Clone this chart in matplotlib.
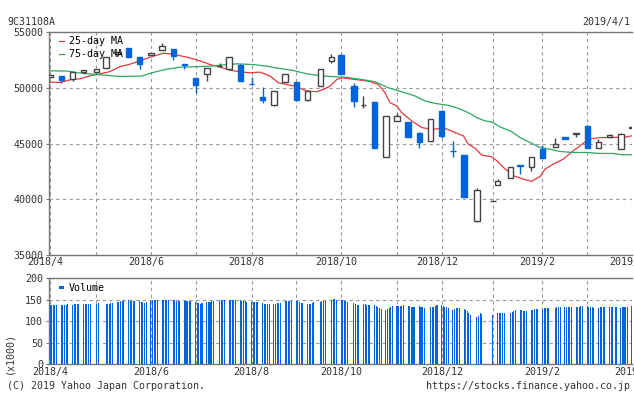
import numpy as np
import pandas as pd
import matplotlib
matplotlib.use("Agg")
import matplotlib.pyplot as plt
from matplotlib.transforms import ScaledTranslation

# ---- values ----
start = pd.Timestamp("2018-04-02")
end = pd.Timestamp("2019-04-01")
jp_holidays = ["2018-04-30", "2018-05-03", "2018-05-04", "2018-07-16", "2018-09-17",
               "2018-09-24", "2018-10-08", "2018-11-23", "2018-12-24", "2018-12-31",
               "2019-01-01", "2019-01-02", "2019-01-03", "2019-01-14", "2019-02-11",
               "2019-03-21"]

# weekly candles, oldest first
w_open = [51000, 51050, 50800, 51400, 51400, 51760, 53000, 53550, 52770, 52920, 53370,
          53480, 52140, 50890, 51190, 51920, 51640, 52080, 50340, 49200, 48450, 50500,
          50535, 48900, 50150, 52380, 52980, 50180, 48450, 48690, 43810, 47030, 46940,
          45980, 45240, 47950, 44360, 43950, 38010, 39820, 41310, 41940, 43030, 42920,
          44550, 44710, 45560, 45850, 46610, 44580, 45560, 44500, 46420]
w_close = [51100, 50700, 51450, 51600, 51680, 52740, 53200, 52750, 52170, 53120, 53780,
           52880, 52000, 50210, 51790, 51960, 52740, 50650, 50330, 48870, 49700, 51250,
           48870, 49700, 51700, 52740, 51190, 48810, 48480, 44580, 47470, 47470, 45600,
           45090, 47180, 45650, 44340, 40180, 40870, 39830, 41610, 42860, 43010, 43750,
           43690, 44940, 45380, 45900, 44580, 45150, 45800, 45890, 46440]
w_high = [51100, 51050, 51450, 51600, 51700, 52760, 53250, 53550, 52770, 53150, 54000,
          53500, 52150, 50900, 51800, 52230, 52760, 52100, 50950, 50090, 49700, 51260,
          50540, 49720, 51720, 53040, 53000, 50450, 49260, 48700, 47470, 47770, 46950,
          46000, 47190, 47960, 45180, 43960, 40990, 39840, 41810, 42870, 43030, 43760,
          44850, 45450, 45600, 45920, 46620, 45380, 45810, 45980, 46450]
w_low = [50950, 50450, 50650, 51200, 51350, 51750, 52950, 52750, 51640, 52900, 53370,
         52470, 51650, 49490, 50650, 51900, 51620, 50650, 50330, 48660, 48330, 50480,
         48860, 48780, 50140, 52230, 51190, 48300, 48150, 44580, 43810, 47030, 45600,
         44580, 45240, 45530, 43750, 40180, 38000, 39810, 41300, 41930, 42270, 42500,
         43690, 44700, 45380, 45600, 44580, 44570, 45550, 44490, 46400]

# moving averages: day offset from 2018/4/2, value
ma25_day = [0, 6.3, 12.5, 18.8, 25, 31.3, 37.5, 43.8, 50, 56.3, 62.5, 70.7, 76.9, 85.7,
            93.8, 100.1, 106.3, 112.6, 118.8, 125.1, 131.3, 137.6, 142.8, 148, 154.3,
            160.5, 166.8, 170.9, 175.1, 179.3, 182.4, 190.7, 199.1, 205.3, 209.5, 212.6,
            216.8, 219.9, 226.2, 232.5, 238.7, 247, 253.3, 258.5, 261.6, 265.8, 270,
            276.2, 279.4, 283.5, 289.7, 296, 301.2, 306.4, 309.6, 314.8, 321, 327.3,
            331.5, 336.7, 344, 352.3, 360.7, 364]
ma25_val = [50509, 50473, 50714, 50803, 51071, 51250, 51455, 51902, 52116, 52411, 52741,
            53098, 53009, 52741, 52411, 52080, 51848, 51580, 51428, 51339, 51402, 51044,
            50446, 50294, 50089, 49705, 49643, 49848, 50152, 50741, 50893, 50741, 50598,
            50294, 49553, 48660, 48366, 47767, 47026, 46428, 46276, 46366, 45982, 45687,
            44937, 44580, 43955, 43812, 43455, 42857, 42116, 41812, 41607, 42027, 42705,
            43151, 43598, 44348, 44794, 45384, 45535, 45535, 45598, 45687]
ma75_day = [0, 11.4, 17.7, 31.3, 43.8, 57.3, 63.6, 71.9, 81.3, 89.6, 100.1, 106.3, 116.8,
            127.1, 135.5, 143.8, 152.2, 160.5, 170.9, 179.3, 184.5, 194.9, 203.3, 211.6,
            219.9, 228.3, 234.5, 240.8, 249.1, 255.4, 261.6, 266.9, 272, 276.2, 281.4,
            288.7, 293.9, 300.2, 306.4, 312.7, 318.9, 327.3, 335.6, 344, 352.3, 357.5, 364]
ma75_val = [51518, 51491, 51339, 51161, 51009, 51044, 51339, 51634, 51848, 51875, 51937,
            52027, 52143, 52080, 51937, 51723, 51545, 51250, 51044, 50982, 50955, 50741,
            50536, 50000, 49643, 49259, 48812, 48598, 48419, 48152, 47767, 47321, 47027,
            46937, 46491, 46071, 45535, 45089, 44643, 44491, 44285, 44196, 44196, 44107,
            44107, 43991, 43991]

# daily volume (x1000), one row per week
volume = [
    137, 137, 137, 137, 137,
    137, 137, 137, 138, 139,
    138, 139, 139, 139, 139,
    139, 139, 139, 139, 139,
    140, 142,
    141, 141, 141, 142, 143,
    144, 145, 146, 147, 149,
    149, 148, 148, 147, 147,
    146, 145, 144, 143, 144,
    148, 149, 149, 149, 149,
    150, 150, 150, 150, 150,
    150, 149, 148, 147, 148,
    147, 147, 147, 147, 147,
    145, 143, 142, 141, 143,
    144, 144, 145, 146, 148,
    148, 149, 150, 150,
    149, 150, 150, 150, 150,
    149, 148, 147, 146, 145,
    145, 145, 145, 145, 145,
    142, 141, 141, 141, 141,
    140, 141, 142, 143, 143,
    146, 147, 148, 148, 148,
    147, 146, 145, 143, 142,
    141, 140, 141, 143, 144,
    145, 146, 147, 148,
    150, 152, 151, 150,
    150, 149, 147, 146, 145,
    142, 139, 138, 137,
    141, 140, 138, 137, 137,
    138, 136, 133, 131, 129,
    125, 128, 131, 133, 135,
    135, 135, 136, 136, 137,
    135, 135, 134, 134, 133,
    135, 134, 132, 131,
    133, 132, 134, 136, 137,
    138, 135, 134, 132, 131,
    127, 128, 130, 131, 130,
    128, 126, 124, 120, 114,
    110, 112, 118, 116,
    114,
    118, 118, 119, 118, 118,
    120, 121, 123, 125,
    125, 125, 124, 123, 123,
    125, 127, 128, 129, 128,
    129, 130, 130, 131, 130,
    131, 132, 133, 133,
    133, 133, 133, 133, 133,
    133, 133, 134, 135, 135,
    135, 134, 133, 132, 131,
    131, 132, 133, 133, 133,
    133, 133, 133, 133,
    131, 132, 133, 133, 133,
    135,
]

month_labels = ["2018/4", "", "2018/6", "", "2018/8", "", "2018/10", "", "2018/12", "",
                "2019/2", "", "2019/4"]

# ---- x positions (calendar days from 2018/4/2) ----
days = pd.bdate_range(start, end)
days = days[~days.isin(pd.to_datetime(jp_holidays))]
x_day = np.array((days - start).days)
week_key = days - pd.to_timedelta(days.weekday, unit="D")
first = ~pd.Series(week_key).duplicated().values
x_week = x_day[first]
wk_dates = days[first]
month_key = pd.Series(wk_dates.year * 12 + wk_dates.month)
x_month = x_week[~month_key.duplicated().values]

plt.rcParams['font.family'] = 'DejaVu Sans Mono'
plt.rcParams['font.size'] = 7.2
TXT = '#333333'
BLUE = '#0064dc'
GRID = dict(color='#999999', linestyle=(0, (3, 3)), linewidth=0.8)

fig = plt.figure(figsize=(6.34, 3.94), dpi=100)
ax = fig.add_axes([48.7/634, 139/394, (632-48.7)/634, 223/394])
ax2 = fig.add_axes([48.7/634, 30/394, (632-48.7)/634, 85.7/394])

# candles
o = np.array(w_open)
c = np.array(w_close)
up = c >= o
edge = np.where(up, '#444444', BLUE)
ax.vlines(x_week, w_low, w_high, colors=edge, linewidth=1, zorder=4)
ax.bar(x_week, np.abs(c - o), bottom=np.minimum(o, c), width=3.4,
       color=np.where(up, 'white', BLUE), edgecolor=edge, linewidth=1, zorder=5)

l25, = ax.plot(ma25_day, ma25_val, color='#e8383d', linewidth=0.9, zorder=3)
l75, = ax.plot(ma75_day, ma75_val, color='#2aa864', linewidth=0.9, zorder=3)

vb = ax2.bar(x_day, volume, width=0.65, color=BLUE, zorder=3)

for a in (ax, ax2):
    a.set_xlim(-0.9, 364)
    a.set_xticks(x_month)
    a.set_xticklabels(month_labels, color=TXT)
    a.grid(True, **GRID)
    a.set_axisbelow(True)
    a.spines['right'].set_visible(False)
    for s in ('left', 'top', 'bottom'):
        a.spines[s].set_color('#777777')
        a.spines[s].set_linewidth(1)
    a.tick_params(axis='x', length=0, pad=1.5)
    a.tick_params(axis='y', length=2.5, pad=1.5, colors='#777777', labelcolor=TXT)
    shift = ScaledTranslation(-5/100, 0, fig.dpi_scale_trans)
    for lab in a.get_xticklabels():
        lab.set_transform(lab.get_transform() + shift)

ax2.tick_params(axis='x', pad=2.5)

ax.set_ylim(35000, 55000)
ax.set_yticks([35000, 40000, 45000, 50000, 55000])
ax.set_yticklabels(['35000', '40000', '45000', '50000', '55000'])
ax2.set_ylim(0, 200)
ax2.set_yticks([0, 50, 100, 150, 200])

ax.legend([l25, l75], ['25-day MA', '75-day MA'], loc='upper left',
          bbox_to_anchor=(0.017, 0.98), frameon=False, handlelength=0.55,
          handletextpad=0.5, labelspacing=0.3, borderpad=0, borderaxespad=0,
          fontsize=7.2)
ax2.legend([vb], ['Volume'], loc='upper left', bbox_to_anchor=(0.017, 0.945),
           frameon=False, handlelength=0.55, handleheight=0.15, handletextpad=0.5,
           borderpad=0, borderaxespad=0, fontsize=7.2)

fig.text(7/634, 1 - 25/394, '9C31108A', color=TXT, va='baseline', ha='left')
fig.text(630/634, 1 - 25/394, '2019/4/1', color=TXT, va='baseline', ha='right')
fig.text(9/634, 1 - 353.5/394, '(x1000)', color=TXT, rotation=90, va='center', ha='center')
fig.text(7/634, 5/394, '(C) 2019 Yahoo Japan Corporation.', color=TXT, va='baseline', ha='left')
fig.text(630/634, 5/394, 'https://stocks.finance.yahoo.co.jp', color=TXT, va='baseline', ha='right')

fig.savefig('out.png', dpi=100)
